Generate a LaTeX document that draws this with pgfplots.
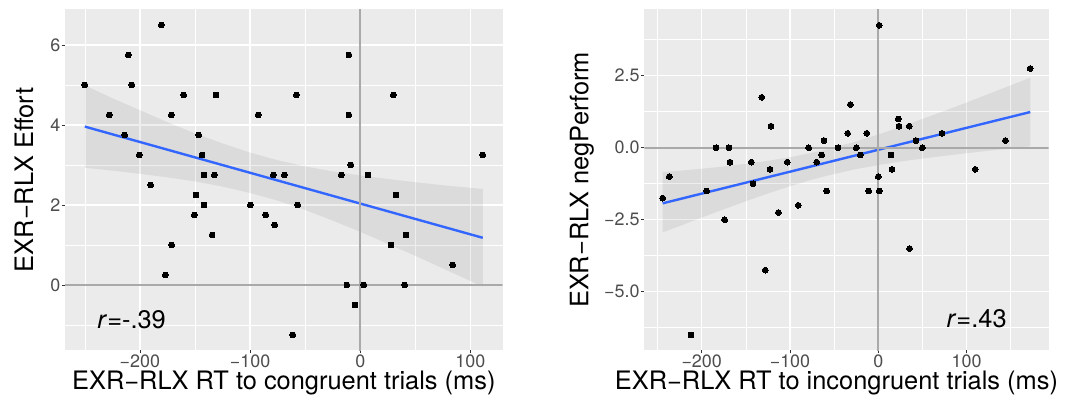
\documentclass[border=0pt]{standalone}
\usepackage{pgfplots}
\pgfplotsset{compat=1.18}
\usepackage{fontspec}
\setmainfont{TeX Gyre Heros}
\definecolor{ggbg}{HTML}{EBEBEB}
\definecolor{ggzero}{HTML}{A9A9A9}
\definecolor{ggblue}{HTML}{3366FF}
\definecolor{ggticklab}{HTML}{4D4D4D}
\definecolor{ggtick}{HTML}{333333}

\pgfplotstableread{
x y
-250 5.0
-180.6 6.5
-210.6 5.75
-207.3 5.0
-227.9 4.25
-160.3 4.75
-171.5 4.25
-130.9 4.75
-92.7 4.25
-57.9 4.75
-10.3 5.75
-10.3 4.25
30 4.75
-213.9 3.75
-146.7 3.75
-200.6 3.25
-143.6 3.25
111.2 3.25
-8.5 3.0
-141.8 2.75
-132.4 2.75
-78.8 2.75
-68.8 2.75
-17.3 2.75
7 2.75
-190.3 2.5
-149.1 2.25
-141.8 2.0
-99.7 2.0
-56.7 2.0
-150.6 1.75
-85.8 1.75
-77.6 1.5
-134.5 1.25
32.4 2.25
41.5 1.25
27.9 1.0
-171.2 1.0
-176.9 0.25
83.9 0.5
-12.1 0
3.3 0
40.3 0
-4.8 -0.5
-61.2 -1.25
}\leftdata

\pgfplotstableread{
x y
1.1 4.25
172.1 2.75
-132 1.75
-31.7 1.5
-121.5 0.75
22.6 1.0
23.4 0.75
35.1 0.75
-34.7 0.5
-13.1 0.5
72.1 0.5
-61.5 0.25
42.7 0.25
143.9 0.25
-183.8 0
-169.1 0
-78.9 0
-45.6 0
-24.9 0
49.9 0
-64.1 -0.25
-20.4 -0.25
14.4 -0.25
-168 -0.5
-143.8 -0.5
-103.1 -0.5
-69.8 -0.5
-122.6 -0.75
15.5 -0.75
109.9 -0.75
-236.7 -1.0
0 -1.0
-141.9 -1.25
-244.2 -1.75
-194.4 -1.5
-58.5 -1.5
-10.9 -1.5
1.1 -1.5
-90.6 -2.0
-113.2 -2.25
-174 -2.5
35.5 -3.5
-128 -4.25
-212.1 -6.5
}\rightdata

\pgfplotsset{
 ggstyle/.style={
  scale only axis,
  height=341bp,
  axis background/.style={fill=ggbg},
  axis line style={draw=none},
  grid=both,
  major grid style={white, line width=1.2bp},
  minor grid style={white, line width=0.6bp},
  tick align=outside,
  major tick length=3bp,
  minor tick length=0pt,
  every tick/.style={ggtick, line width=0.7bp},
  xtick pos=bottom, ytick pos=left,
  tick label style={font=\fontsize{18}{20}\selectfont, text=ggticklab, inner sep=1.5bp},
  /pgf/number format/assume math mode=true,
  every axis x label/.style={at={(axis description cs:0.5,0)}, anchor=base, yshift=-39.5bp, inner sep=0pt, font=\fontsize{25.5}{28}\selectfont},
  every axis y label/.style={at={(axis description cs:0,0.5)}, rotate=90, anchor=base, inner sep=0pt, font=\fontsize{25.5}{28}\selectfont},
 },
 ptstyle/.style={only marks, mark=*, mark size=2.9bp, mark options={fill=black, draw=black, line width=0pt}},
 bandstyle/.style={draw=none, fill=black, fill opacity=0.065},
 fitstyle/.style={ggblue, line width=2.4bp},
 zerostyle/.style={ggzero, line width=1.6bp},
}

\begin{document}
\begin{tikzpicture}
\useasboundingbox (0,0) rectangle (1086bp,410bp);

% ---------- left panel ----------
\begin{axis}[ggstyle,
  at={(65bp,59.5bp)}, anchor=south west,
  width=437.7bp,
  xmin=-268, xmax=129.3, ymin=-1.6375, ymax=6.8875,
  xtick={-200,-100,0,100}, xticklabels={−200,−100,0,100},
  minor xtick={-250,-150,-50,50},
  ytick={0,2,4,6}, yticklabels={0,2,4,6},
  minor ytick={-1,1,3,5},
  xlabel={EXR−RLX RT to congruent trials (ms)},
  ylabel={EXR−RLX Effort},
  y label style={yshift=32bp},
]
\addplot[ptstyle] table[x=x,y=y] {\leftdata};
\addplot[bandstyle] coordinates {
(-250,4.99) (-225,4.67) (-200,4.37) (-175,4.07) (-150,3.79) (-125,3.54) (-100,3.31) (-75,3.12) (-50,2.965) (-25,2.84) (0,2.74) (25,2.65) (50,2.57) (80,2.48) (111.2,2.40)
(111.2,-0.04) (80,0.35) (50,0.73) (25,1.03) (0,1.33) (-25,1.61) (-50,1.875) (-75,2.11) (-100,2.30) (-125,2.46) (-150,2.59) (-175,2.69) (-200,2.78) (-225,2.86) (-250,2.93)
};
\addplot[fitstyle] coordinates {(-250,3.96) (111.2,1.18)};
\addplot[zerostyle] coordinates {(-300,0) (200,0)};
\addplot[zerostyle] coordinates {(0,-5) (0,10)};
\node[anchor=base, font=\fontsize{25.5}{28}\selectfont] at (axis cs:-207.5,-1.1) {\textit{r}=-.39};
\end{axis}

% ---------- right panel ----------
\begin{axis}[ggstyle,
  at={(644.3bp,59.5bp)}, anchor=south west,
  width=404.3bp,
  xmin=-265, xmax=192.9, ymin=-7.04, ymax=4.80,
  xtick={-200,-100,0,100}, xticklabels={−200,−100,0,100},
  minor xtick={-250,-150,-50,50,150},
  ytick={-5,-2.5,0,2.5}, yticklabels={−5.0,−2.5,0.0,2.5},
  minor ytick={-6.25,-3.75,-1.25,1.25,3.75},
  xlabel={EXR−RLX RT to incongruent trials (ms)},
  ylabel={EXR−RLX negPerform},
  y label style={yshift=56bp},
  x label style={xshift=-10bp},
]
\addplot[ptstyle] table[x=x,y=y] {\rightdata};
\addplot[bandstyle] coordinates {
(-244.2,-0.85) (-225,-0.80) (-200,-0.73) (-175,-0.65) (-150,-0.56) (-125,-0.456) (-100,-0.33) (-75,-0.175) (-56,-0.04) (-25,0.22) (0,0.46) (25,0.72) (50,1.0) (75,1.28) (100,1.57) (135,1.99) (172.1,2.43)
(172.1,0.05) (135,-0.07) (100,-0.19) (75,-0.28) (50,-0.375) (25,-0.48) (0,-0.60) (-25,-0.74) (-56,-0.955) (-75,-1.108) (-100,-1.337) (-125,-1.589) (-150,-1.857) (-175,-2.14) (-200,-2.425) (-225,-2.72) (-244.2,-2.94)
};
\addplot[fitstyle] coordinates {(-244.2,-1.93) (172.1,1.24)};
\addplot[zerostyle] coordinates {(-300,0) (250,0)};
\addplot[zerostyle] coordinates {(0,-10) (0,10)};
\node[anchor=base, font=\fontsize{25.5}{28}\selectfont] at (axis cs:111.4,-6.25) {\textit{r}=.43};
\end{axis}
\end{tikzpicture}
\end{document}
